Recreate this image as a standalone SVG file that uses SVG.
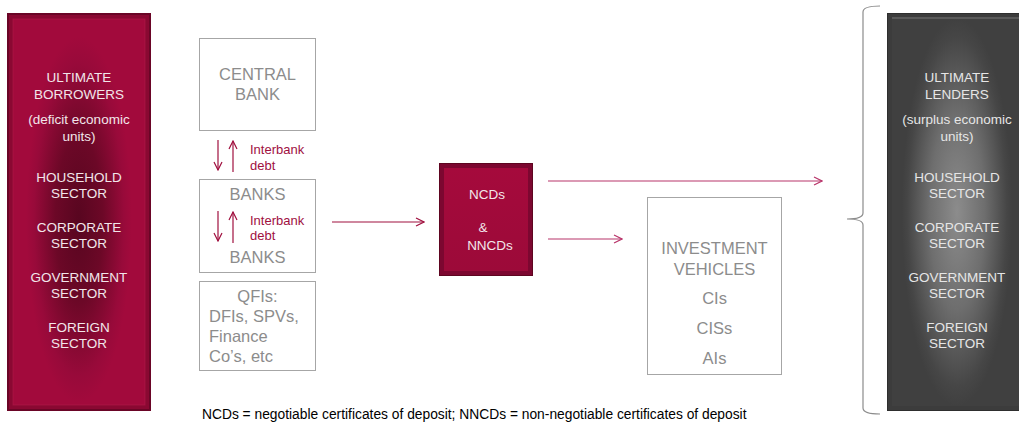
<svg xmlns="http://www.w3.org/2000/svg" width="1019" height="425" viewBox="0 0 1019 425">
<style>
.w{font-family:"Liberation Sans",Arial,sans-serif;fill:#f2e6ea;text-anchor:middle;font-size:13.5px}
.wg{font-family:"Liberation Sans",Arial,sans-serif;fill:#e6e6e6;text-anchor:middle;font-size:13.5px}
.g{font-family:"Liberation Sans",Arial,sans-serif;fill:#8c8c8c;font-size:16.5px}
.gm{text-anchor:middle}
.r{font-family:"Liberation Sans",Arial,sans-serif;fill:#a0103f;font-size:13px}
.box{fill:#fff;stroke:#a6a6a6;stroke-width:1}
.con{stroke:#a0103f;stroke-width:1.2;fill:none}
</style>
<defs>
<radialGradient id="redg" cx="0.5" cy="0.52" r="0.5" gradientTransform="translate(0.5 0.52) scale(0.8 0.95) translate(-0.5 -0.52)">
<stop offset="0" stop-color="#580620"/>
<stop offset="0.45" stop-color="#6c0827"/>
<stop offset="0.85" stop-color="#980a3a"/>
<stop offset="1" stop-color="#a20a3c"/>
</radialGradient>
<radialGradient id="grayg" cx="0.5" cy="0.5" r="0.5" gradientTransform="translate(0.5 0.5) scale(0.85 1) translate(-0.5 -0.5)">
<stop offset="0" stop-color="#8c8c8c"/>
<stop offset="0.5" stop-color="#6e6e6e"/>
<stop offset="0.9" stop-color="#464646"/>
<stop offset="1" stop-color="#404040"/>
</radialGradient>
<linearGradient id="ncdg" x1="0" y1="0" x2="0" y2="1">
<stop offset="0" stop-color="#a50a3c"/>
<stop offset="1" stop-color="#9c0a39"/>
</linearGradient>
<marker id="ah" viewBox="0 0 10 10" refX="9" refY="5" markerWidth="10" markerHeight="10" markerUnits="userSpaceOnUse" orient="auto">
<path d="M1 1 L9 5 L1 9" fill="none" stroke="#a0103f" stroke-width="1.2"/>
</marker>
<marker id="ah2" viewBox="0 0 10 10" refX="9" refY="5" markerWidth="10" markerHeight="10" markerUnits="userSpaceOnUse" orient="auto">
<path d="M1 1 L9 5 L1 9" fill="none" stroke="#b8346a" stroke-width="1.2"/>
</marker>
</defs>

<g id="borrowers">
<rect x="7" y="13" width="144" height="398" fill="#6a0526"/>
<rect x="9" y="15" width="140" height="394" fill="#8a0832"/>
<rect x="13" y="19" width="132" height="386" fill="url(#redg)"/>
<rect x="13" y="19" width="132" height="386" fill="none" stroke="#b01a4a" stroke-width="1" opacity="0.6"/>
<text class="w" x="79" y="82">ULTIMATE</text>
<text class="w" x="79" y="99">BORROWERS</text>
<text class="w" x="79" y="124">(deficit economic</text>
<text class="w" x="79" y="141">units)</text>
<text class="w" x="79" y="182">HOUSEHOLD</text>
<text class="w" x="79" y="198">SECTOR</text>
<text class="w" x="79" y="232">CORPORATE</text>
<text class="w" x="79" y="248">SECTOR</text>
<text class="w" x="79" y="282">GOVERNMENT</text>
<text class="w" x="79" y="298">SECTOR</text>
<text class="w" x="79" y="332">FOREIGN</text>
<text class="w" x="79" y="348">SECTOR</text>
</g>

<g id="central-bank">
<rect class="box" x="199.5" y="38.5" width="116" height="92"/>
<text class="g gm" x="257.5" y="80">CENTRAL</text>
<text class="g gm" x="257.5" y="100">BANK</text>
</g>

<g id="banks">
<rect class="box" x="199.5" y="179.5" width="116" height="93"/>
<text class="g gm" x="257.5" y="200">BANKS</text>
<text class="g gm" x="257.5" y="263">BANKS</text>
<text class="r" x="250" y="225">Interbank</text>
<text class="r" x="250" y="240">debt</text>
</g>

<g id="qfis">
<rect class="box" x="199.5" y="281.5" width="116" height="89"/>
<text class="g gm" x="257.5" y="302">QFIs:</text>
<text class="g" x="209" y="322">DFIs, SPVs,</text>
<text class="g" x="209" y="342">Finance</text>
<text class="g" x="209" y="362">Co’s, etc</text>
</g>

<g id="interbank-cb">
<text class="r" x="250" y="154">Interbank</text>
<text class="r" x="250" y="170">debt</text>
</g>

<g id="ncds">
<rect x="439" y="163" width="94" height="113" fill="#5e0520"/>
<rect x="440" y="164" width="92" height="111" fill="#7c0730"/>
<rect x="444" y="168" width="84" height="103" fill="url(#ncdg)"/>
<text class="w" x="487" y="199" font-size="12.5">NCDs</text>
<text class="w" x="483" y="232" font-size="12.5">&amp;</text>
<text class="w" x="490" y="250" font-size="12.5">NNCDs</text>
</g>

<g id="investment-vehicles">
<rect class="box" x="647.5" y="197.5" width="134" height="177"/>
<text class="g gm" x="714.5" y="254">INVESTMENT</text>
<text class="g gm" x="714.5" y="275">VEHICLES</text>
<text class="g gm" x="714.5" y="304">CIs</text>
<text class="g gm" x="714.5" y="334">CISs</text>
<text class="g gm" x="714.5" y="364">AIs</text>
</g>

<g id="lenders">
<rect x="887" y="13" width="134" height="398" fill="#2e2e2e"/>
<rect x="888" y="14" width="134" height="396" fill="#3c3c3c"/>
<rect x="892" y="18" width="130" height="388" fill="url(#grayg)"/>
<rect x="892" y="17" width="130" height="2" fill="#5a5a5a"/>
<text class="wg" x="957" y="82">ULTIMATE</text>
<text class="wg" x="957" y="99">LENDERS</text>
<text class="wg" x="957" y="124">(surplus economic</text>
<text class="wg" x="957" y="141">units)</text>
<text class="wg" x="957" y="182">HOUSEHOLD</text>
<text class="wg" x="957" y="198">SECTOR</text>
<text class="wg" x="957" y="232">CORPORATE</text>
<text class="wg" x="957" y="248">SECTOR</text>
<text class="wg" x="957" y="282">GOVERNMENT</text>
<text class="wg" x="957" y="298">SECTOR</text>
<text class="wg" x="957" y="332">FOREIGN</text>
<text class="wg" x="957" y="348">SECTOR</text>
</g>

<g id="brace">
<path d="M880 6 Q863 6 863 12 L863 213 Q863 219 847 219 Q863 219 863 225 L863 408 Q863 414 880 414" fill="none" stroke="#8c8c8c" stroke-width="1.2"/>
</g>

<g id="connectors">
<line class="con" x1="218" y1="140" x2="218" y2="170" marker-end="url(#ah)"/>
<line class="con" x1="233" y1="172" x2="233" y2="141" marker-end="url(#ah)"/>
<line class="con" x1="218" y1="211" x2="218" y2="241" marker-end="url(#ah)"/>
<line class="con" x1="233" y1="243" x2="233" y2="212" marker-end="url(#ah)"/>
<line class="con" x1="332" y1="222" x2="424" y2="222" marker-end="url(#ah)"/>
<line x1="548" y1="181" x2="822" y2="181" stroke="#b8346a" stroke-width="1.2" marker-end="url(#ah2)"/>
<line x1="548" y1="239" x2="622" y2="239" stroke="#b8346a" stroke-width="1.2" marker-end="url(#ah2)"/>
</g>

<text x="202" y="419" font-family="Liberation Sans, Arial, sans-serif" font-size="13.8" fill="#000">NCDs = negotiable certificates of deposit; NNCDs = non-negotiable certificates of deposit</text>
</svg>
